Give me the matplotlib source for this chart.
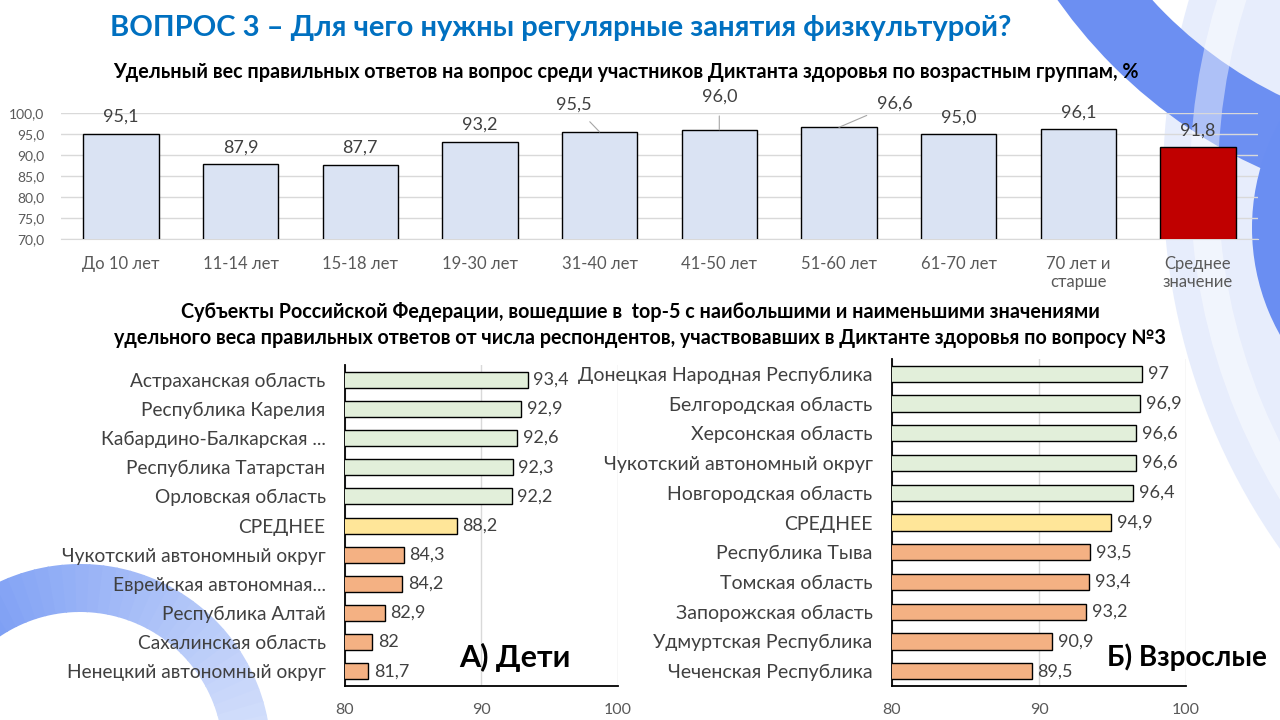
import numpy as np
import matplotlib
matplotlib.use("Agg")
import matplotlib.pyplot as plt
from matplotlib.patches import Annulus, Wedge
from matplotlib.colors import to_rgb

plt.rcParams['font.family'] = ['Lato', 'DejaVu Sans']

# --- data ---
age_groups = ['До 10 лет', '11-14 лет', '15-18 лет', '19-30 лет', '31-40 лет',
              '41-50 лет', '51-60 лет', '61-70 лет', '70 лет и\nстарше', 'Среднее\nзначение']
age_values = [95.1, 87.9, 87.7, 93.2, 95.5, 96.0, 96.6, 95.0, 96.1, 91.8]

kids_regions = ['Астраханская область', 'Республика Карелия', 'Кабардино-Балкарская ...',
                'Республика Татарстан', 'Орловская область', 'СРЕДНЕЕ',
                'Чукотский автономный округ', 'Еврейская автономная...', 'Республика Алтай',
                'Сахалинская область', 'Ненецкий автономный округ']
kids_values = [93.4, 92.9, 92.6, 92.3, 92.2, 88.2, 84.3, 84.2, 82.9, 82.0, 81.7]

adult_regions = ['Донецкая Народная Республика', 'Белгородская область', 'Херсонская область',
                 'Чукотский автономный округ', 'Новгородская область', 'СРЕДНЕЕ',
                 'Республика Тыва', 'Томская область', 'Запорожская область',
                 'Удмуртская Республика', 'Чеченская Республика']
adult_values = [97.0, 96.9, 96.6, 96.6, 96.4, 94.9, 93.5, 93.4, 93.2, 90.9, 89.5]


def fmt(v, one_decimal=True):
    if one_decimal:
        return f"{v:.1f}".replace('.', ',')
    s = f"{v:.1f}".rstrip('0').rstrip('.')
    return s.replace('.', ',')


fig = plt.figure(figsize=(12.8, 7.2), dpi=100)
fig.patch.set_facecolor('white')

# background swooshes
bg = fig.add_axes([0, 0, 1, 1], zorder=-5)
bg.set_xlim(0, 1280)
bg.set_ylim(720, 0)
bg.axis('off')
bg.add_patch(Annulus((1803, 180), 640, 300, color='#DDE6FC', alpha=0.7, lw=0))
bg.add_patch(Annulus((1468, -289), 502, 74, color='#6C8FF2', lw=0))
bg.add_patch(Annulus((1803, 180), 613, 28, color='white', alpha=0.45, lw=0))
bg.add_patch(Annulus((1470, 228), 218, 32, color='#6A8EF2', lw=0))
c1 = np.array(to_rgb('#5A84F1'))
c2 = np.array(to_rgb('#D2DEFB'))
n = 40
th = np.linspace(185, 352, n + 1)
for i in range(n):
    col = c1 + (c2 - c1) * (i / (n - 1))
    bg.add_patch(Wedge((80, 755), 191, th[i], th[i + 1] + 0.5, width=48, color=col, lw=0))

# titles
fig.text(0.438, 0.961, 'ВОПРОС 3 – Для чего нужны регулярные занятия физкультурой?',
         ha='center', va='center', fontsize=21, fontweight='bold', color='#0070C0')
fig.text(0.489, 0.900, 'Удельный вес правильных ответов на вопрос среди участников Диктанта здоровья по возрастным группам, %',
         ha='center', va='center', fontsize=14.2, fontweight='bold', color='black')
fig.text(0.500, 0.567, 'Субъекты Российской Федерации, вошедшие в  top-5 с наибольшими и наименьшими значениями',
         ha='center', va='center', fontsize=14.2, fontweight='bold', color='black')
fig.text(0.500, 0.531, 'удельного веса правильных ответов от числа респондентов, участвовавших в Диктанте здоровья по вопросу №3',
         ha='center', va='center', fontsize=14.2, fontweight='bold', color='black')

# top chart
ax = fig.add_axes([0.0477, 0.668, 0.935, 0.175])
x = np.arange(len(age_groups))
colors = ['#DAE3F3'] * (len(age_groups) - 1) + ['#C00000']
ax.bar(x, age_values, width=0.63, color=colors, edgecolor='black', linewidth=1, zorder=3)
ax.set_xlim(-0.5, len(age_groups) - 0.5)
ax.set_ylim(70, 100)
ax.set_yticks(np.arange(70, 100.1, 5))
ax.set_yticklabels([fmt(v) for v in np.arange(70, 100.1, 5)])
ax.set_xticks(x)
ax.set_xticklabels(age_groups)
ax.tick_params(axis='y', length=0, labelsize=10, colors='#595959', pad=12)
ax.tick_params(axis='x', length=0, labelsize=12, colors='#595959', pad=12)
ax.grid(axis='y', color='#D9D9D9', lw=1, zorder=0)
for s in ['top', 'right', 'left']:
    ax.spines[s].set_visible(False)
ax.spines['bottom'].set_color('#D9D9D9')
ax.set_facecolor('none')

offsets = {4: (-26, 27), 5: (0, 33), 6: (56, 24)}
for i, v in enumerate(age_values):
    if i in offsets:
        dx, dy = offsets[i]
        ax.annotate(fmt(v), (i, v), xytext=(dx * 0.72, dy * 0.72), textcoords='offset points',
                    ha='center', va='center', fontsize=13, color='#404040',
                    arrowprops=dict(arrowstyle='-', color='#A6A6A6', lw=0.8, shrinkA=6, shrinkB=0),
                    annotation_clip=False)
    else:
        ax.annotate(fmt(v), (i, v), xytext=(0, 12), textcoords='offset points',
                    ha='center', va='center', fontsize=13, color='#404040', annotation_clip=False)


def region_chart(rect, names, values, label_text, text_x, label_size, title_size):
    a = fig.add_axes(rect)
    y = np.arange(len(names))
    cols = ['#E2EFDA'] * 5 + ['#FFE699'] + ['#F4B183'] * 5
    a.barh(y, values, height=0.55, color=cols, edgecolor='black', linewidth=1, zorder=3)
    a.set_xlim(80, 100)
    a.set_ylim(len(names) - 0.5, -0.5)
    a.set_yticks(y)
    a.set_yticklabels(names)
    a.set_xticks([80, 90, 100])
    a.tick_params(axis='y', length=0, labelsize=label_size, colors='#404040', pad=14)
    a.tick_params(axis='x', length=0, labelsize=11.5, colors='#595959', pad=12)
    a.grid(axis='x', color='#D9D9D9', lw=1, zorder=0)
    for s in ['top', 'right']:
        a.spines[s].set_visible(False)
    a.spines['left'].set_linewidth(1.3)
    a.spines['bottom'].set_linewidth(1.3)
    a.set_facecolor('none')
    for yi, v in zip(y, values):
        a.annotate(fmt(v, False), (v, yi), xytext=(4, 0), textcoords='offset points',
                   ha='left', va='center', fontsize=13, color='#404040', zorder=4)
    fig.text(text_x, 0.087, label_text, ha='center', va='center', fontsize=title_size,
             fontweight='bold', color='black')
    return a


region_chart([0.2695, 0.0472, 0.2133, 0.4458], kids_regions, kids_values, 'А) Дети', 0.402, 13.8, 22)
region_chart([0.6969, 0.0472, 0.2297, 0.4542], adult_regions, adult_values, 'Б) Взрослые', 0.927, 14, 20)

fig.savefig('out.png', dpi=100)
